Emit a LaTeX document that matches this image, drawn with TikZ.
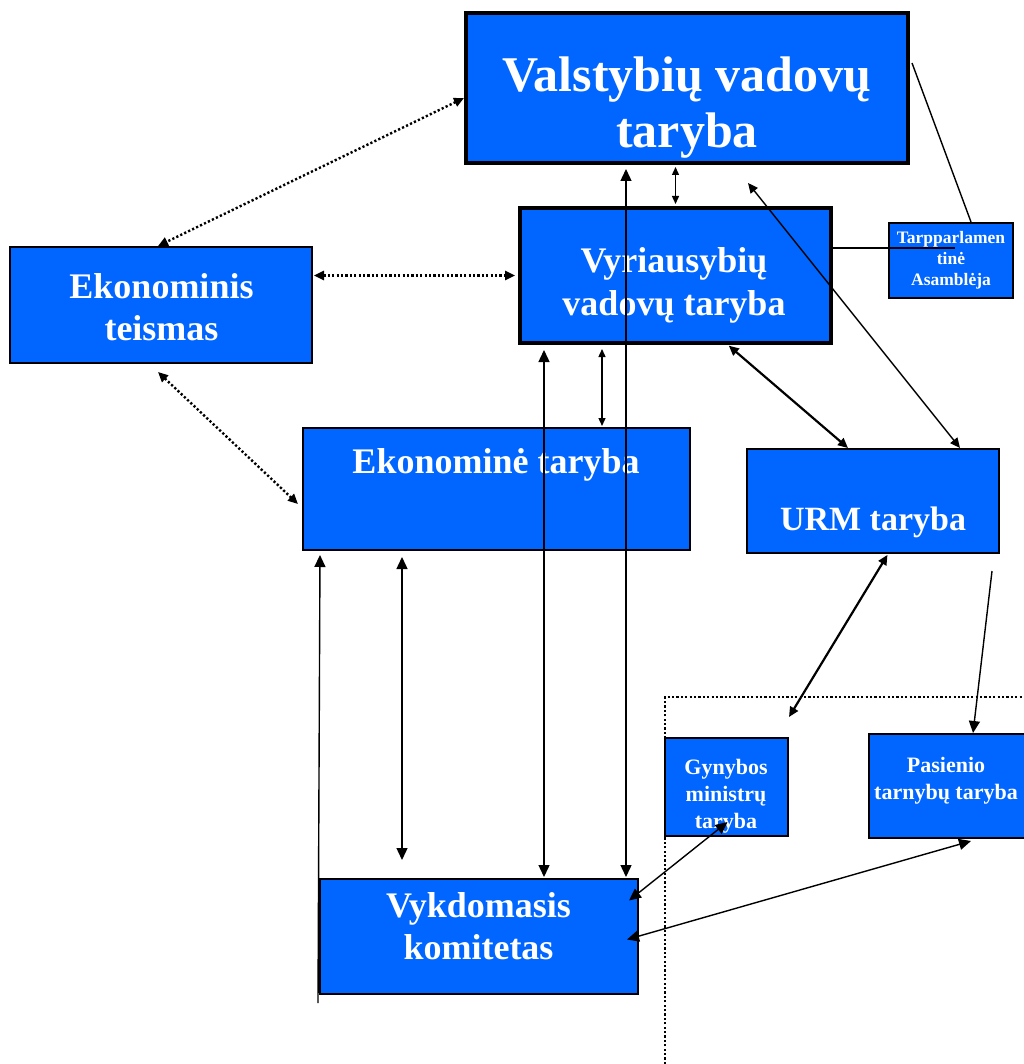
\documentclass[tikz,border=0pt]{standalone}
\usepackage{fontspec}
\setmainfont{Liberation Serif}
\usetikzlibrary{arrows.meta}
\definecolor{boxblue}{RGB}{0,102,255}
\begin{document}
\begin{tikzpicture}[x=1pt,y=-1pt,
  box/.style={draw=black,fill=boxblue,line width=2pt,inner sep=0pt},
  heavybox/.style={box,line width=4pt},
  lbl/.style={text=white,align=center,anchor=base,inner sep=0pt},
  bigtip/.style={{Triangle[length=12pt,width=11pt]}-{Triangle[length=12pt,width=11pt]}},
  midtip/.style={{Triangle[length=10pt,width=9pt]}-{Triangle[length=10pt,width=9pt]}},
  smalltip/.style={{Triangle[length=8pt,width=7pt]}-{Triangle[length=8pt,width=7pt]}},
  link/.style={line width=1.4pt},
  boldlink/.style={line width=2.2pt},
  dotlink/.style={line width=2.4pt,dash pattern=on 2.2pt off 2.2pt,
    {Triangle[length=10pt,width=9pt]}-{Triangle[length=10pt,width=9pt]}},
  dotframe/.style={line width=2.2pt,dash pattern=on 2.2pt off 2.2pt}]

\useasboundingbox (0,0) rectangle (1023,1064);

% dotted frame of the lower right group
\draw[dotframe] (665,1064) -- (665,697) -- (1030,697);

% boxes
\node[heavybox,minimum width=442pt,minimum height=150pt] (vv)  at (687,88) {};
\node[heavybox,minimum width=311pt,minimum height=135pt] (vy)  at (675.5,275.5) {};
\node[box,minimum width=302pt,minimum height=116pt] (et)  at (161,305) {};
\node[box,minimum width=387pt,minimum height=122pt] (ekt) at (496.5,489) {};
\node[box,minimum width=252pt,minimum height=104pt] (urm) at (873,501) {};
\node[box,minimum width=124pt,minimum height=75pt]  (tpa) at (951,260.5) {};
\node[box,minimum width=123pt,minimum height=98pt]  (gyn) at (726.5,787) {};
\node[box,minimum width=158pt,minimum height=104pt] (pas) at (948,786) {};
\node[box,minimum width=318pt,minimum height=115pt] (vk)  at (479,936.5) {};

% box texts (placed by the baseline of their last line)
\node[lbl,font=\bfseries\fontsize{50}{56}\selectfont] (tvv) at (687,148) {Valstybių vadovų\\taryba};
\node[lbl,font=\bfseries\fontsize{36}{43}\selectfont] (tvy) at (674,315) {Vyriausybių\\vadovų taryba};
\node[lbl,font=\bfseries\fontsize{36}{42}\selectfont] (tet) at (161.5,340) {Ekonominis\\teismas};
\node[lbl,font=\bfseries\fontsize{36}{42}\selectfont] (tekt) at (496,473) {Ekonominė taryba};
\node[lbl,font=\bfseries\fontsize{34}{40}\selectfont] (turm) at (873,530) {URM taryba};
\node[lbl,font=\bfseries\fontsize{17.5}{21}\selectfont] (ttpa) at (951,286) {Tarpparlamen\\tinė\\Asamblėja};
\node[lbl,font=\bfseries\fontsize{22}{27}\selectfont] (tgyn) at (726,828) {Gynybos\\ministrų\\taryba};
\node[lbl,font=\bfseries\fontsize{22}{27}\selectfont] (tpas) at (946,799) {Pasienio\\tarnybų taryba};
\node[lbl,font=\bfseries\fontsize{36}{42}\selectfont] (tvk) at (478.5,959) {Vykdomasis\\komitetas};

% guide points for the connectors
\coordinate (g320) at (320,0);
\coordinate (g402) at (402,0);
\coordinate (g544) at (544,0);
\coordinate (g602) at (602,0);
\coordinate (g626) at (626,0);
\coordinate (g728) at (728,0);
\coordinate (g848) at (848,0);
\coordinate (g888) at (888,0);
\coordinate (g960) at (960,0);
\coordinate (g971) at (971,0);
\coordinate (g973) at (973,0);
\coordinate (tpaIn) at (955,248);
% free ends
\coordinate (fA) at (748,183);
\coordinate (fB) at (912,63);
\coordinate (fC) at (789,717);
\coordinate (fD) at (992,571);
\coordinate (fE) at (402,860);
\coordinate (fF) at (318,1003);

% dotted links of the economic court
\draw[dotlink] ([yshift=-10pt]vv.west) -- ([xshift=-3pt]et.north);
\draw[dotlink,shorten <=1pt,shorten >=3pt] (et.east |- vy.west) -- (vy.west);
\draw[dotlink] ([xshift=-3pt,yshift=-8pt]et.south) -- ([xshift=-4pt,yshift=-15pt]ekt.west);

% links between the councils
\draw[link,smalltip,shorten <=2pt,shorten >=2pt] (vy.north) -- (vy.north |- vv.south);
\draw[link,bigtip,shorten <=4pt,shorten >=1pt] (vv.south -| g626) -- (vk.north -| g626);
\draw[link,bigtip,shorten <=5pt,shorten >=1pt] (vy.south -| g544) -- (vk.north -| g544);
\draw[link,smalltip,shorten <=4pt,shorten >=1pt] (vy.south -| g602) -- (ekt.north -| g602);
\draw[boldlink,midtip,shorten <=1pt] (vy.south -| g728) -- (urm.north -| g848);
\draw[link,midtip] (fA) -- (urm.north -| g960);
\draw[link] (fB) -- (tpa.north -| g971);
\draw[link] (vy.east |- tpaIn) -- (tpaIn);
\draw[boldlink,midtip,shorten <=1pt] (urm.south -| g888) -- (fC);
\draw[link,-{Triangle[length=12pt,width=11pt]}] (fD) -- (pas.north -| g973);
\draw[link,bigtip] ([xshift=-10pt,yshift=36pt]vk.east) -- ([xshift=1pt,yshift=15pt]gyn.south);
\draw[link,bigtip] ([xshift=-12pt,yshift=-3pt]vk.east) -- ([xshift=23pt,yshift=-2pt]pas.south);
\draw[link,bigtip,shorten <=6pt] (ekt.south -| g402) -- (fE);
\draw[link,-{Triangle[length=12pt,width=11pt]},shorten >=4pt] (fF) -- (ekt.south -| g320);

\end{tikzpicture}
\end{document}
